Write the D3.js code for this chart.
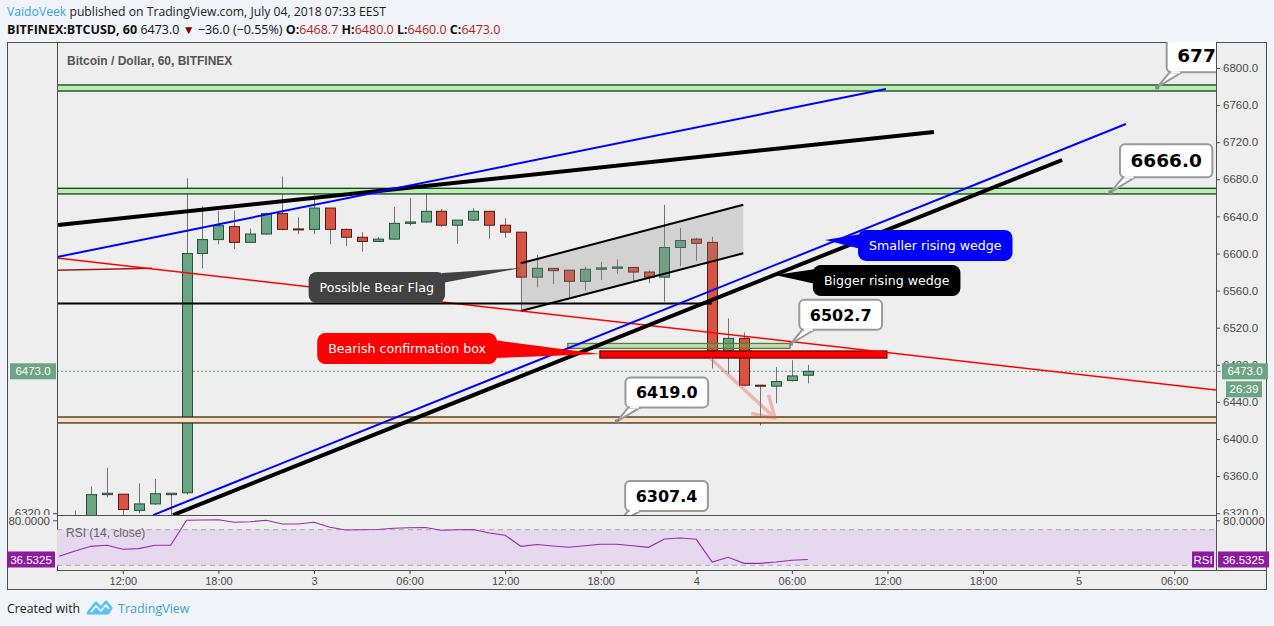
<!DOCTYPE html>
<html>
<head>
<meta charset="utf-8">
<script src="https://cdn.jsdelivr.net/npm/d3@7"></script>
<style>
  body { margin: 0; background: #f0f3f7; }
  svg text { font-family: "Liberation Sans", Arial, sans-serif; }
  .hdr { font-family: "Open Sans", sans-serif !important; }
</style>
</head>
<body>
<svg id="chart" width="1274" height="626"></svg>
<script>
// hourly bars, Jul 2 08:00 .. Jul 4 07:00 (first bar is off chart, only rsi)
const times = [
  "2018-07-02 08:00","2018-07-02 09:00","2018-07-02 10:00","2018-07-02 11:00","2018-07-02 12:00","2018-07-02 13:00",
  "2018-07-02 14:00","2018-07-02 15:00","2018-07-02 16:00","2018-07-02 17:00","2018-07-02 18:00","2018-07-02 19:00",
  "2018-07-02 20:00","2018-07-02 21:00","2018-07-02 22:00","2018-07-02 23:00",
  "2018-07-03 00:00","2018-07-03 01:00","2018-07-03 02:00","2018-07-03 03:00","2018-07-03 04:00","2018-07-03 05:00",
  "2018-07-03 06:00","2018-07-03 07:00","2018-07-03 08:00","2018-07-03 09:00","2018-07-03 10:00","2018-07-03 11:00",
  "2018-07-03 12:00","2018-07-03 13:00","2018-07-03 14:00","2018-07-03 15:00","2018-07-03 16:00","2018-07-03 17:00",
  "2018-07-03 18:00","2018-07-03 19:00","2018-07-03 20:00","2018-07-03 21:00","2018-07-03 22:00","2018-07-03 23:00",
  "2018-07-04 00:00","2018-07-04 01:00","2018-07-04 02:00","2018-07-04 03:00","2018-07-04 04:00","2018-07-04 05:00",
  "2018-07-04 06:00","2018-07-04 07:00"
];
const opens = [null,
  6305, 6312, 6340, 6340.5, 6323, 6330, 6340, 6342, 6600, 6615, 6629, 6612, 6621, 6643, 6626.5,
  6626, 6649, 6626, 6617.5, 6613, 6615.5, 6632.5, 6634, 6645.5, 6630.5, 6636, 6645.5,
  6630.5, 6623, 6574.5, 6584, 6582, 6570, 6583, 6584, 6585, 6580, 6574.5, 6606.5,
  6615.5, 6612, 6495, 6508.5, 6458, 6457, 6463, 6468.7];
const highs = [null,
  6323, 6349, 6369, 6340.5, 6352, 6357, 6341, 6681, 6651, 6646, 6646, 6627, 6644, 6683, 6639,
  6664, 6649, 6627, 6623, 6617.5, 6650, 6660, 6673, 6648, 6636, 6649, 6645.5,
  6638, 6623, 6598.5, 6584, 6582, 6586, 6591, 6593.5, 6585, 6582, 6652.5, 6627.5,
  6617, 6618, 6530, 6515, 6458.5, 6477.5, 6485, 6480];
const lows = [null,
  6300, 6308, 6337, 6318, 6320, 6329, 6318, 6340, 6584, 6610, 6605, 6612, 6620, 6625, 6621,
  6621, 6610, 6608, 6602, 6613, 6615, 6630, 6633, 6628.5, 6610.5, 6635, 6616,
  6617, 6538, 6563.5, 6567, 6551.5, 6560, 6571.5, 6578, 6569.5, 6568, 6548, 6586,
  6592, 6476, 6470, 6457, 6414.5, 6438.5, 6462, 6460];
const closes = [null,
  6312, 6340, 6341.5, 6324, 6330, 6341, 6341.5, 6600, 6615, 6630, 6612, 6621, 6643, 6626, 6625.5,
  6649, 6626, 6617.5, 6613, 6615.5, 6632.5, 6634, 6645.5, 6630.5, 6636, 6645.5, 6630.5,
  6623, 6574.5, 6584, 6581.5, 6570, 6583, 6584.5, 6585.5, 6580, 6574.5, 6606.5, 6614,
  6611, 6495, 6508.5, 6458, 6457.5, 6462, 6468, 6473];
const rsi = [
  40.1, 46.0, 51.3, 52.5, 48.0, 48.7, 52.5, 52.5, 80.6, 80.9, 81.2, 78.3, 79.0, 80.6, 76.4, 76.4,
  78.3, 72.7, 69.7, 70.0, 70.2, 71.6, 72.2, 72.5, 69.3, 69.9, 70.3, 66.3, 63.7, 51.3, 53.4, 51.7,
  50.2, 51.9, 53.6, 53.6, 51.9, 50.2, 59.6, 60.7, 59.2, 33.7, 39.0, 32.2, 32.2, 33.7, 35.6, 36.5325];

const priceTicks = [6320, 6360, 6400, 6440, 6480, 6520, 6560, 6600, 6640, 6680, 6720, 6760, 6800];
const timeTicks = ["2018-07-02 12:00","2018-07-02 18:00","2018-07-03 00:00","2018-07-03 06:00",
  "2018-07-03 12:00","2018-07-03 18:00","2018-07-04 00:00","2018-07-04 06:00","2018-07-04 12:00",
  "2018-07-04 18:00","2018-07-05 00:00","2018-07-05 06:00"];

// drawings (time, price)
const bands = [
  {from: "2018-07-02 06:00", to: "2018-07-05 12:00", lo: 6775.2, hi: 6781.7, fill: "#b6f0b0", stroke: "#1d3a1d"},
  {from: "2018-07-02 06:00", to: "2018-07-05 12:00", lo: 6664.2, hi: 6670.3, fill: "#b6f0b0", stroke: "#1d3a1d"},
  {from: "2018-07-02 06:00", to: "2018-07-05 12:00", lo: 6417.3, hi: 6423.7, fill: "#f8e0c0", stroke: "#3b2b1b"},
  {from: "2018-07-03 15:56", to: "2018-07-04 05:53", lo: 6497.7, hi: 6503.0, fill: "rgba(120,190,70,0.35)", stroke: "#5d7a3c"},
  {from: "2018-07-03 17:57", to: "2018-07-04 11:58", lo: 6487.3, hi: 6494.9, fill: "#ff0000", stroke: "#7a0000"}
];
const trendLines = [
  {a: ["2018-07-02 07:00", 6581.5], b: ["2018-07-02 13:50", 6584.0], color: "#a01818", w: 1.5},
  {a: ["2018-07-02 07:52", 6595.1], b: ["2018-07-05 08:37", 6452.8], color: "#ff0000", w: 1.5},
  {a: ["2018-07-02 07:52", 6546.0], b: ["2018-07-04 00:59", 6546.0], color: "#000000", w: 2},
  {a: ["2018-07-02 07:56", 6630.7], b: ["2018-07-04 14:55", 6731.0], color: "#000000", w: 4},
  {a: ["2018-07-02 15:09", 6318.0], b: ["2018-07-04 22:58", 6700.8], color: "#000000", w: 4},
  {a: ["2018-07-02 07:52", 6596.2], b: ["2018-07-04 11:54", 6777.4], color: "#0000ff", w: 2},
  {a: ["2018-07-02 13:54", 6318.0], b: ["2018-07-05 02:58", 6739.6], color: "#0000ff", w: 2}
];
const channel = {t0: "2018-07-03 12:59", t1: "2018-07-04 02:57", up: [6589.4, 6652.6], lo: [6538.0, 6600.2]};
const arrow = {a: ["2018-07-04 00:52", 6487.3], b: ["2018-07-04 04:56", 6422.6]};

const noteBalloons = [
  {text: "Possible Bear Flag", t: "2018-07-03 13:00", p: 6584.4, side: "left", gap: 76, dy: 4, fill: "#424242", tail: [1, 11]},
  {text: "Bearish confirmation box", t: "2018-07-03 17:57", p: 6491.6, side: "left", gap: 103, dy: -21, fill: "#ff0000", tail: [7, 25]},
  {text: "Smaller rising wedge", t: "2018-07-04 08:05", p: 6614.6, side: "right", gap: 33, dy: -10, fill: "#0000ff", tail: [4, 19]},
  {text: "Bigger rising wedge", t: "2018-07-04 04:56", p: 6576.8, side: "right", gap: 38, dy: -10, fill: "#000000", tail: [4, 19]}
];
const priceBalloons = [
  {text: "6779.2", t: "2018-07-05 04:56", p: 6779.2, big: true},
  {text: "6666.0", t: "2018-07-05 02:00", p: 6666.0, big: true},
  {text: "6502.7", t: "2018-07-04 05:56", p: 6502.7, big: false},
  {text: "6419.0", t: "2018-07-03 19:01", p: 6419.0, big: false},
  {text: "6307.4", t: "2018-07-03 19:00", p: 6307.4, big: false}
];
const lastPrice = 6473.0;

const parse = d3.utcParse("%Y-%m-%d %H:%M");
const L = 57, R = 1216, T = 42, PB = 515, RB = 570;

const x = d3.scaleUtc()
  .domain([parse("2018-07-02 00:00"), parse("2018-07-05 00:00")])
  .range([-68.3, 1078.6]);
const y = d3.scaleLinear().domain([6400, 6800]).range([439, 68]);
const yr = d3.scaleLinear().domain([30, 70]).range([565.3, 529.7]);

const svg = d3.select("#chart");
svg.append("rect").attr("width", 1274).attr("height", 626).attr("fill", "#f0f3f7");
svg.append("rect").attr("x", 7.5).attr("y", 42.5).attr("width", 1259).attr("height", 547)
  .attr("fill", "#eeeeee").attr("stroke", "#505050");

const defs = svg.append("defs");
defs.append("clipPath").attr("id", "pane").append("rect").attr("x", L).attr("y", T).attr("width", R - L).attr("height", PB - T);
defs.append("clipPath").attr("id", "rsipane").append("rect").attr("x", L).attr("y", PB).attr("width", R - L).attr("height", RB - PB);
defs.append("clipPath").attr("id", "raxis").append("rect").attr("x", R).attr("y", T).attr("width", 58).attr("height", PB - T);
defs.append("clipPath").attr("id", "laxis").append("rect").attr("x", 0).attr("y", T).attr("width", L).attr("height", PB - T);

// header
const h1 = svg.append("text").attr("class", "hdr").attr("x", 7).attr("y", 16).style("font-size", "12.2px").attr("fill", "#222");
h1.append("tspan").attr("fill", "#3ba3dc").text("VaidoVeek");
h1.append("tspan").text(" published on TradingView.com, July 04, 2018 07:33 EEST");
const h2 = svg.append("text").attr("class", "hdr").attr("x", 7).attr("y", 34).style("font-size", "12.5px").attr("fill", "#111");
h2.append("tspan").attr("font-weight", "bold").text("BITFINEX:BTCUSD, 60");
h2.append("tspan").text("  6473.0 ");
h2.append("tspan").attr("fill", "#8b0000").style("font-size", "12px").text("▼");
h2.append("tspan").text(" \u221236.0 (\u22120.55%) ");
[["O:", "6468.7"], ["H:", "6480.0"], ["L:", "6460.0"], ["C:", "6473.0"]].forEach(([k, v], i) => {
  h2.append("tspan").attr("font-weight", "bold").text((i ? " " : "") + k);
  h2.append("tspan").attr("fill", "#b71c1c").text(v);
});

// ---- price pane
const pane = svg.append("g").attr("clip-path", "url(#pane)");
pane.append("text").attr("x", 67).attr("y", 65).attr("fill", "#555").attr("font-weight", "bold")
  .style("font-size", "12px").text("Bitcoin / Dollar, 60, BITFINEX");
pane.append("line").attr("x1", L).attr("x2", R).attr("y1", y(lastPrice)).attr("y2", y(lastPrice))
  .attr("stroke", "#5d9b79").attr("stroke-dasharray", "2,2");

const bars = times.map((t, i) => ({t: parse(t), o: opens[i], h: highs[i], l: lows[i], c: closes[i]}))
  .filter(d => d.o !== null);
const cg = pane.append("g");
bars.forEach(d => {
  const cx = Math.round(x(d.t)) + 0.5;
  const up = d.c >= d.o;
  cg.append("line").attr("x1", cx).attr("x2", cx).attr("y1", y(d.h)).attr("y2", y(d.l))
    .attr("stroke", "#737375");
  const top = y(Math.max(d.o, d.c)), bot = y(Math.min(d.o, d.c));
  cg.append("rect").attr("x", cx - 5).attr("width", 10)
    .attr("y", top).attr("height", Math.max(bot - top, 1))
    .attr("fill", up ? "#6ba583" : "#d75442")
    .attr("stroke", up ? "#225437" : "#5b1a13");
});

// drawings
const dg = pane.append("g");
bands.forEach(b => {
  dg.append("rect").attr("x", x(parse(b.from))).attr("width", x(parse(b.to)) - x(parse(b.from)))
    .attr("y", y(b.hi)).attr("height", y(b.lo) - y(b.hi))
    .attr("fill", b.fill).attr("stroke", b.stroke).attr("stroke-width", 1.3);
});
const c0 = x(parse(channel.t0)), c1 = x(parse(channel.t1));
dg.append("path")
  .attr("d", `M${c0},${y(channel.up[0])}L${c1},${y(channel.up[1])}L${c1},${y(channel.lo[1])}L${c0},${y(channel.lo[0])}Z`)
  .attr("fill", "rgba(140,140,140,0.28)");
[channel.up, channel.lo].forEach(v => {
  dg.append("line").attr("x1", c0).attr("y1", y(v[0])).attr("x2", c1).attr("y2", y(v[1]))
    .attr("stroke", "#000").attr("stroke-width", 2);
});
trendLines.forEach(l => {
  dg.append("line").attr("x1", x(parse(l.a[0]))).attr("y1", y(l.a[1]))
    .attr("x2", x(parse(l.b[0]))).attr("y2", y(l.b[1]))
    .attr("stroke", l.color).attr("stroke-width", l.w);
});

// arrow
{
  const ax = x(parse(arrow.a[0])), ay = y(arrow.a[1]);
  const bx = x(parse(arrow.b[0])), by = y(arrow.b[1]);
  const ang = Math.atan2(by - ay, bx - ax);
  const arm = a => [bx - 24 * Math.cos(ang + a), by - 24 * Math.sin(ang + a)];
  const p1 = arm(0.56), p2 = arm(-0.56);
  dg.append("path").attr("d", `M${ax},${ay}L${bx},${by}M${p1}L${bx},${by}L${p2}`)
    .attr("fill", "none").attr("stroke", "rgba(240,90,90,0.38)").attr("stroke-width", 3.5)
    .attr("stroke-linejoin", "round");
}

// note balloons
noteBalloons.forEach(d => {
  const px = x(parse(d.t)), py = y(d.p);
  const g = dg.append("g");
  const txt = g.append("text").attr("fill", "#fff")
    .style("font-family", "'DejaVu Sans', Verdana, sans-serif").style("font-size", "12.6px").text(d.text);
  const w = txt.node().getComputedTextLength() + 22, h = 31;
  const bx = d.side === "left" ? px - d.gap - w : px + d.gap;
  const by = py + d.dy;
  const ex = d.side === "left" ? bx + w - 3 : bx + 3;
  g.insert("path", "text").attr("d", `M${ex},${by + d.tail[0]}L${px},${py}L${ex},${by + d.tail[1]}Z`).attr("fill", d.fill);
  g.insert("rect", "text").attr("x", bx).attr("y", by).attr("width", w).attr("height", h)
    .attr("rx", 8).attr("fill", d.fill);
  txt.attr("x", bx + 11).attr("y", by + h / 2).attr("dy", "0.35em");
});

// price balloons
priceBalloons.forEach(d => {
  const px = x(parse(d.t)), py = y(d.p);
  const g = dg.append("g");
  const fs = d.big ? 18.5 : 16, h = d.big ? 33 : 30;
  const bx = px + (d.big ? 9.5 : 8.5), by = py - (d.big ? 48 : 44);
  const txt = g.append("text").attr("font-weight", "bold").attr("fill", "#000")
    .style("font-family", "'DejaVu Sans', Verdana, sans-serif").style("font-size", fs + "px").text(d.text);
  const w = txt.node().getComputedTextLength() + 21;
  const tail = `M${bx + 3},${by + h}L${px},${py}L${bx + 15},${by + h}`;
  g.insert("path", "text").attr("d", tail + "Z").attr("fill", "#fff").attr("stroke", "#9a9a9a").attr("stroke-width", 2);
  g.insert("rect", "text").attr("x", bx).attr("y", by).attr("width", w).attr("height", h)
    .attr("rx", 5).attr("fill", "#fff").attr("stroke", "#9a9a9a").attr("stroke-width", 2);
  g.insert("line", "text").attr("x1", bx + 4.5).attr("x2", bx + 13.5).attr("y1", by + h).attr("y2", by + h)
    .attr("stroke", "#fff").attr("stroke-width", 2.2);
  g.append("rect").attr("x", px - 2).attr("y", py - 2).attr("width", 4).attr("height", 4).attr("fill", "#888");
  txt.attr("x", bx + 10.5).attr("y", by + h / 2).attr("dy", "0.36em");
});

// pane separators (on top of drawings)
const frame = svg.append("g").attr("stroke", "#505050").attr("shape-rendering", "crispEdges");
frame.append("line").attr("x1", L + 0.5).attr("x2", L + 0.5).attr("y1", T).attr("y2", RB);
frame.append("line").attr("x1", R + 0.5).attr("x2", R + 0.5).attr("y1", T).attr("y2", RB);
frame.append("line").attr("x1", L).attr("x2", R).attr("y1", PB + 0.5).attr("y2", PB + 0.5);
frame.append("line").attr("x1", L).attr("x2", 1267).attr("y1", RB + 0.5).attr("y2", RB + 0.5);

// ---- price axes
const ra = svg.append("g").attr("clip-path", "url(#raxis)").append("g")
  .attr("transform", `translate(${R},0)`)
  .call(d3.axisRight(y).tickValues(priceTicks).tickFormat(d3.format(".1f")).tickSize(4).tickPadding(3));
const la = svg.append("g").attr("clip-path", "url(#laxis)").append("g")
  .attr("transform", `translate(${L},0)`)
  .call(d3.axisLeft(y).tickValues([6320]).tickFormat(d3.format(".1f")).tickSize(4).tickPadding(3));
[ra, la].forEach(a => {
  a.select(".domain").remove();
  a.selectAll("line").attr("stroke", "#505050");
  a.selectAll("text").attr("fill", "#4a4a4a").style("font-size", "11.5px").style("font-family", "'Liberation Sans', Arial, sans-serif");
});

function tag(xp, yp, w, h, fill, label) {
  svg.append("rect").attr("x", xp).attr("y", yp).attr("width", w).attr("height", h).attr("fill", fill);
  svg.append("text").attr("x", xp + w / 2).attr("y", yp + h / 2).attr("dy", "0.36em")
    .attr("text-anchor", "middle").attr("fill", "#fff").style("font-size", "11.5px").text(label);
}
const lpY = y(lastPrice);
svg.append("line").attr("x1", R).attr("x2", R + 5).attr("y1", lpY).attr("y2", lpY).attr("stroke", "#6ba583");
tag(R + 6, lpY - 8, 46, 16, "#6ba583", d3.format(".1f")(lastPrice));
tag(R + 10, lpY + 10, 36, 16, "#6ba583", "26:39");
tag(10, lpY - 8, 46, 16, "#6ba583", d3.format(".1f")(lastPrice));

// ---- RSI pane
const rp = svg.append("g").attr("clip-path", "url(#rsipane)");
rp.append("rect").attr("x", L).attr("width", R - L).attr("y", yr(70)).attr("height", yr(30) - yr(70)).attr("fill", "#e6d8ef");
[70, 30].forEach(v => rp.append("line").attr("x1", L).attr("x2", R).attr("y1", yr(v)).attr("y2", yr(v))
  .attr("stroke", "#a8a8a8").attr("stroke-dasharray", "5,4"));
rp.append("path").datum(rsi)
  .attr("d", d3.line().x((d, i) => x(parse(times[i]))).y(d => yr(d)))
  .attr("fill", "none").attr("stroke", "#9c27b0").attr("stroke-width", 1.1);
rp.append("text").attr("x", 66).attr("y", 537).attr("fill", "#666").style("font-size", "12px").text("RSI (14, close)");

const rsiLast = rsi[rsi.length - 1];
[[R, 1], [L, -1]].forEach(([ax, s]) => {
  const yy = yr(80);
  svg.append("line").attr("x1", ax).attr("x2", ax + 4 * s).attr("y1", yy).attr("y2", yy).attr("stroke", "#505050");
  svg.append("text").attr("x", ax + 7 * s).attr("y", yy).attr("dy", "0.36em")
    .attr("text-anchor", s > 0 ? "start" : "end").attr("fill", "#4a4a4a").style("font-size", "11.5px").text("80.0000");
});
tag(R + 2, yr(rsiLast) - 8, 51, 16, "#8e1a9e", d3.format(".4f")(rsiLast));
tag(R - 24, yr(rsiLast) - 8, 22, 16, "#8e1a9e", "RSI");
tag(7, yr(rsiLast) - 8, 48, 16, "#8e1a9e", d3.format(".4f")(rsiLast));

// ---- time axis
const fmtH = d3.utcFormat("%H:%M"), fmtD = d3.utcFormat("%-d");
const ta = svg.append("g").attr("transform", `translate(0,${RB})`)
  .call(d3.axisBottom(x).tickValues(timeTicks.map(parse)).tickSize(4).tickPadding(3)
    .tickFormat(d => d.getUTCHours() === 0 ? fmtD(d) : fmtH(d)));
ta.select(".domain").remove();
ta.selectAll("line").attr("stroke", "#505050");
ta.selectAll("text").attr("fill", "#4a4a4a").style("font-size", "11px").style("font-family", "'Liberation Sans', Arial, sans-serif");

// footer
svg.append("text").attr("class", "hdr").attr("x", 7).attr("y", 613).attr("fill", "#222").style("font-size", "12.3px").text("Created with");
svg.append("path").attr("d", "M88,613 L96,603 L101,608 L106,602 L111,608 L108,613 Z")
  .attr("fill", "#5ec2ee").attr("stroke", "#5ec2ee").attr("stroke-width", 3).attr("stroke-linejoin", "round");
svg.append("path").attr("d", "M91,612 L96,606 L101,611 L106,605 L109,609")
  .attr("fill", "none").attr("stroke", "#fff").attr("stroke-width", 1.5);
svg.append("text").attr("class", "hdr").attr("x", 118).attr("y", 613).attr("fill", "#3ba3dc").style("font-size", "12.5px").text("TradingView");
</script>
</body>
</html>
